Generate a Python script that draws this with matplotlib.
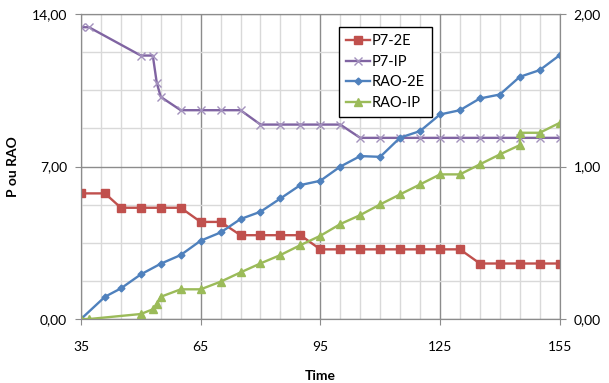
import matplotlib.pyplot as plt
from matplotlib.ticker import MultipleLocator, FixedLocator

# data
x_p7_2e = [35, 41, 45, 50, 55, 60, 65, 70, 75, 80, 85, 90, 95, 100, 105, 110,
           115, 120, 125, 130, 135, 140, 145, 150, 155]
p7_2e = [5.77, 5.77, 5.11, 5.11, 5.11, 5.11, 4.46, 4.46, 3.85, 3.85, 3.85, 3.85,
         3.20, 3.20, 3.20, 3.20, 3.20, 3.20, 3.20, 3.20, 2.55, 2.55, 2.55, 2.55, 2.55]

x_p7_ip = [35, 37, 50, 53, 54, 55, 60, 65, 70, 75, 80, 85, 90, 95, 100, 105, 110,
           115, 120, 125, 130, 135, 140, 145, 150, 155]
p7_ip = [13.4, 13.4, 12.1, 12.1, 10.84, 10.2, 9.59, 9.59, 9.59, 9.59, 8.93, 8.93,
         8.93, 8.93, 8.93, 8.32, 8.32, 8.32, 8.32, 8.32, 8.32, 8.32, 8.32, 8.32, 8.32, 8.32]

x_rao_2e = [35, 41, 45, 50, 55, 60, 65, 70, 75, 80, 85, 90, 95, 100, 105, 110,
            115, 120, 125, 130, 135, 140, 145, 150, 155]
rao_2e = [0.0, 0.146, 0.201, 0.293, 0.363, 0.42, 0.514, 0.568, 0.656, 0.704, 0.791,
          0.879, 0.907, 1.0, 1.069, 1.064, 1.19, 1.233, 1.342, 1.37, 1.447, 1.473,
          1.589, 1.633, 1.731]

x_rao_ip = [35, 37, 50, 53, 54, 55, 60, 65, 70, 75, 80, 85, 90, 95, 100, 105, 110,
            115, 120, 125, 130, 135, 140, 145, 145, 150, 155]
rao_ip = [0.0, 0.0, 0.033, 0.064, 0.10, 0.146, 0.195, 0.195, 0.245, 0.306, 0.365,
          0.42, 0.485, 0.546, 0.623, 0.682, 0.752, 0.818, 0.883, 0.949, 0.949, 1.015,
          1.08, 1.141, 1.222, 1.222, 1.287]

x_ticks = [35, 65, 95, 125, 155]

plt.rcParams['font.family'] = ['Lato', 'DejaVu Sans']

fig = plt.figure(figsize=(6.09, 3.83), dpi=100)
ax = fig.add_axes([0.133, 0.167, 0.786, 0.796])
ax2 = ax.twinx()

red, purple, blue, green = '#C0504D', '#8064A2', '#4F81BD', '#9BBB59'

l1, = ax.plot(x_p7_2e, p7_2e, color=red, lw=1.7, marker='s', ms=5.5, label='P7-2E')
l2, = ax.plot(x_p7_ip, p7_ip, color=purple, lw=1.7, marker='x', ms=6, mew=1,
              mec='#a391bd', label='P7-IP')
l3, = ax2.plot(x_rao_2e, rao_2e, color=blue, lw=1.7, marker='D', ms=3.5, label='RAO-2E')
l4, = ax2.plot(x_rao_ip, rao_ip, color=green, lw=1.7, marker='^', ms=5.5, label='RAO-IP')

ax.set_xlim(35, 155)
ax.set_ylim(0, 14)
ax2.set_ylim(0, 2)
ax.xaxis.set_major_locator(FixedLocator(x_ticks))
ax.xaxis.set_minor_locator(MultipleLocator(5))
ax.yaxis.set_major_locator(MultipleLocator(7))
ax.yaxis.set_minor_locator(MultipleLocator(1.75))
ax2.yaxis.set_major_locator(MultipleLocator(1))
ax2.yaxis.set_minor_locator(MultipleLocator(0.25))

ax.grid(which='minor', color='#d9d9d9', lw=1)
ax.grid(which='major', color='#8c8c8c', lw=1)
ax.set_axisbelow(True)

ax.yaxis.set_major_formatter(lambda v, p: f'{v:.2f}'.replace('.', ','))
ax2.yaxis.set_major_formatter(lambda v, p: f'{v:.2f}'.replace('.', ','))

for a in (ax, ax2):
    for s in a.spines.values():
        s.set_color('#8c8c8c')
    a.tick_params(which='major', length=4, color='#8c8c8c', labelsize=10, pad=6)
    a.tick_params(which='minor', length=0)
ax.tick_params(axis='x', pad=12)

ax.set_xlabel('Time', fontsize=10, fontweight='bold', labelpad=12)
ax.set_ylabel('P ou RAO', fontsize=10, fontweight='bold', labelpad=9)

leg = ax2.legend(handles=[l1, l2, l3, l4], loc='upper left',
                 bbox_to_anchor=(0.524, 0.982), fancybox=False, framealpha=1,
                 edgecolor='black', fontsize=10.5, handlelength=1.6,
                 handletextpad=0.1, borderpad=0.5, labelspacing=0.45)
leg.get_frame().set_linewidth(1)

fig.savefig('out.png', dpi=100)
